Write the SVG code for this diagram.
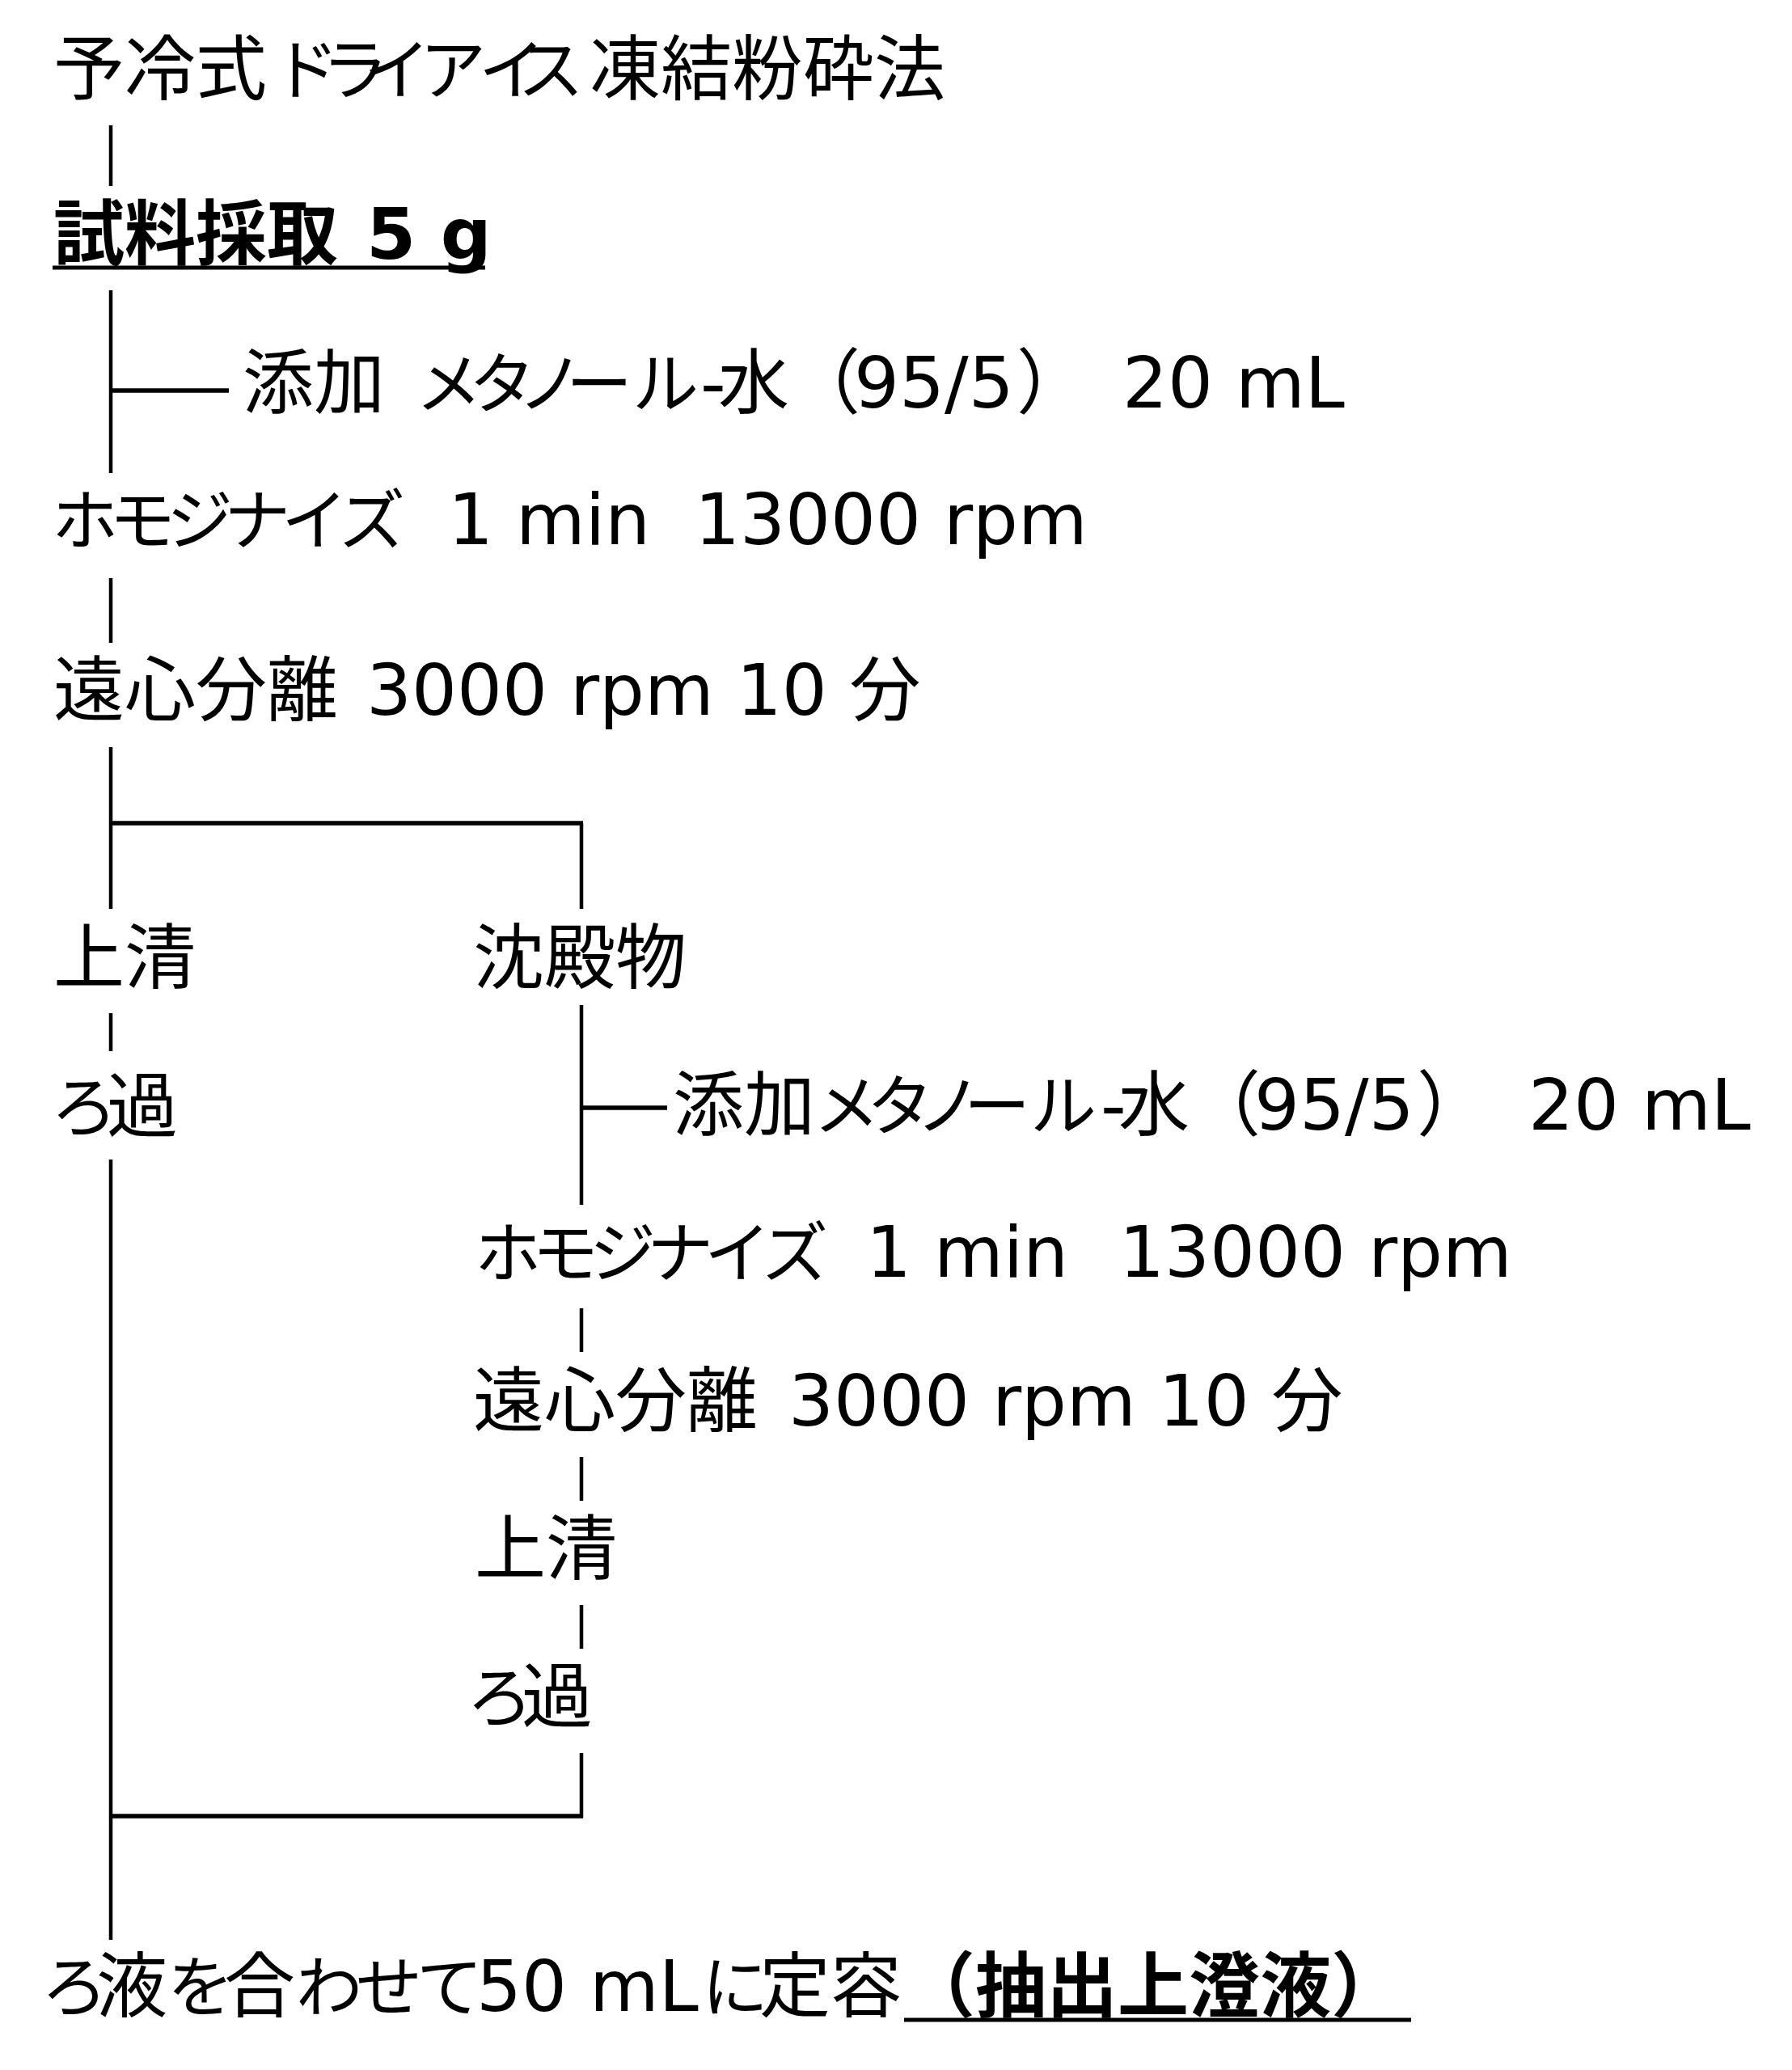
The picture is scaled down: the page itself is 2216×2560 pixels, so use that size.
<svg xmlns="http://www.w3.org/2000/svg" width="2216" height="2560" viewBox="0 0 2216 2560">
<style>
text{font-family:"DejaVu Sans","Noto Sans CJK JP",sans-serif;font-size:88px;fill:#000;}
.b{font-weight:bold;}
.k{font-size:82px;}
.v{stroke:#000;stroke-width:4.5;fill:none;}
.h{stroke:#000;stroke-width:5.5;fill:none;}
.u{stroke:#000;stroke-width:5;fill:none;}
</style>
<rect width="2216" height="2560" fill="#fff"/>
<g id="connectors">
<line class="v" x1="137" y1="155" x2="137" y2="230"/>
<line class="v" x1="137" y1="359" x2="137" y2="585"/>
<line class="h" x1="135" y1="483" x2="283" y2="483"/>
<line class="v" x1="137" y1="715" x2="137" y2="795"/>
<line class="v" x1="137" y1="924" x2="137" y2="1124"/>
<line class="h" x1="135" y1="1018" x2="721" y2="1018"/>
<line class="v" x1="719" y1="1018" x2="719" y2="1124"/>
<line class="v" x1="137" y1="1253" x2="137" y2="1300"/>
<line class="v" x1="137" y1="1434" x2="137" y2="2399"/>
<line class="v" x1="719" y1="1243" x2="719" y2="1490"/>
<line class="h" x1="717" y1="1370" x2="825" y2="1370"/>
<line class="v" x1="719" y1="1618" x2="719" y2="1672"/>
<line class="v" x1="719" y1="1802" x2="719" y2="1856"/>
<line class="v" x1="719" y1="1985" x2="719" y2="2039"/>
<line class="v" x1="719" y1="2168" x2="719" y2="2248"/>
<line class="h" x1="135" y1="2246" x2="721" y2="2246"/>
</g>
<g id="n-title"><text x="66" y="116">予冷式<tspan class="k" x="337 398 450 519 592 640">ドライアイス</tspan><tspan x="729">凍結粉砕法</tspan></text></g>
<g id="n-sample">
<text class="b" x="66" y="320">試料採取 <tspan x="453">5 g</tspan></text>
<line class="u" x1="65" y1="331" x2="600" y2="331" stroke-width="4.6"/>
</g>
<g id="n-add1"><text x="300" y="504">添加 <tspan class="k" x="514 580 640 700 782">メタノール</tspan><tspan x="866">-</tspan><tspan x="888">水</tspan><tspan x="976">（</tspan><tspan x="1056">95/5</tspan><tspan x="1257">）</tspan> <tspan x="1388">20 mL</tspan></text></g>
<g id="n-homo1"><text x="66" y="673"><tspan class="k" x="64 135 206 277 348 419">ホモジナイズ</tspan> <tspan x="554">1 min</tspan> <tspan x="859">13000 rpm</tspan></text></g>
<g id="n-cent1"><text x="66" y="884">遠心分離 <tspan x="453">3000 rpm 10 分</tspan></text></g>
<g id="n-sup1"><text x="66" y="1215">上清</text></g>
<g id="n-ppt"><text x="585" y="1215">沈殿物</text></g>
<g id="n-filt1"><text y="1399"><tspan class="k" x="63">ろ</tspan><tspan x="132">過</tspan></text></g>
<g id="n-add2"><text x="832" y="1397">添加<tspan class="k" x="1006 1072 1132 1192 1274">メタノール</tspan><tspan x="1361">-</tspan><tspan x="1383">水</tspan><tspan x="1471">（</tspan><tspan x="1551">95/5</tspan><tspan x="1752">）</tspan> <tspan x="1890">20 mL</tspan></text></g>
<g id="n-homo2"><text x="589" y="1579"><tspan class="k" x="587 658 729 800 871 942">ホモジナイズ</tspan> <tspan x="1071">1 min</tspan> <tspan x="1384">13000 rpm</tspan></text></g>
<g id="n-cent2"><text x="585" y="1763">遠心分離 <tspan x="975">3000 rpm 10 分</tspan></text></g>
<g id="n-sup2"><text x="587" y="1946">上清</text></g>
<g id="n-filt2"><text y="2129"><tspan class="k" x="577">ろ</tspan><tspan x="645">過</tspan></text></g>
<g id="n-final">
<text y="2487"><tspan class="k" x="51">ろ</tspan><tspan x="119">液</tspan><tspan class="k" x="207">を</tspan><tspan x="277">合</tspan><tspan class="k" x="366 440 515">わせて</tspan><tspan x="589">50 mL</tspan><tspan class="k" x="868">に</tspan><tspan x="939">定容</tspan><tspan class="b" x="1118">（抽出上澄液）</tspan></text>
<line class="u" x1="1118" y1="2498" x2="1745" y2="2498"/>
</g>
</svg>
